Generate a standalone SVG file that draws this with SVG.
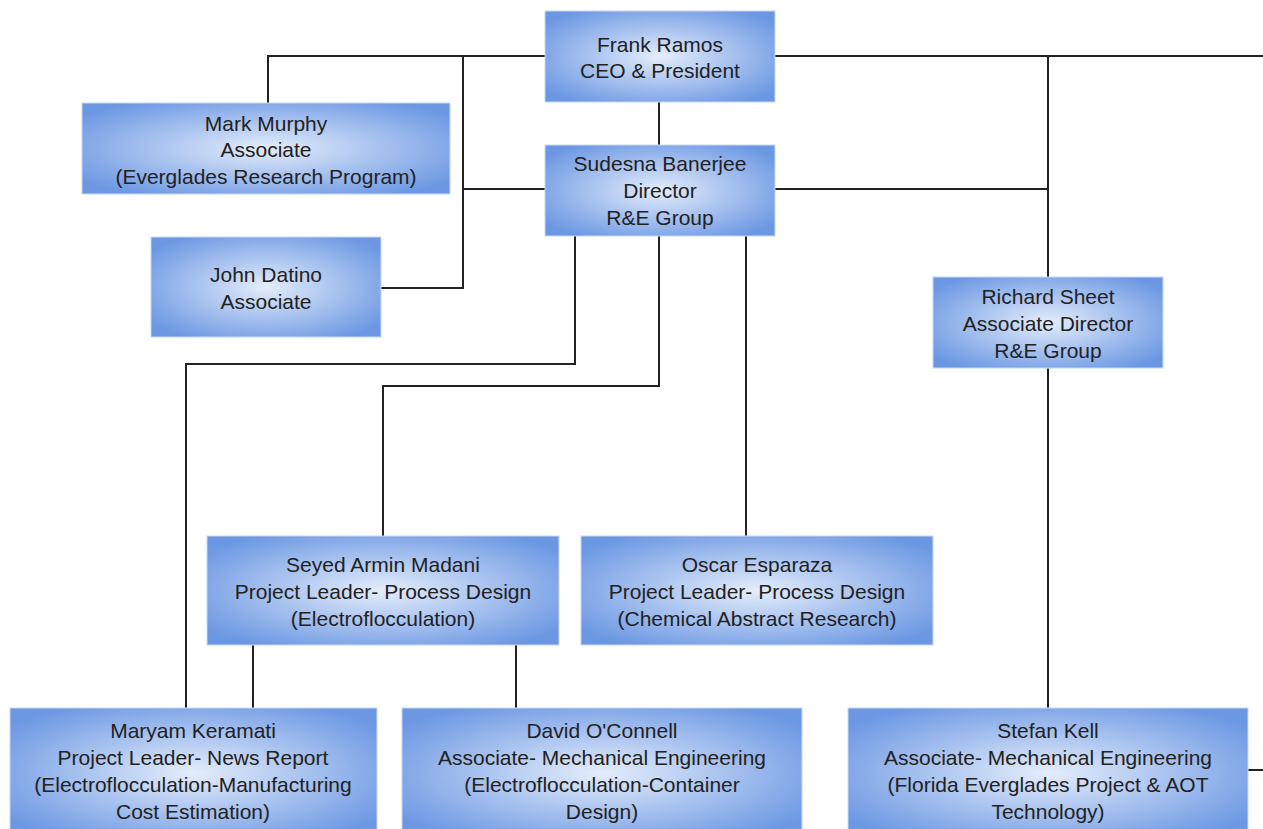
<svg xmlns="http://www.w3.org/2000/svg" width="1263" height="829" viewBox="0 0 1263 829">
<defs>
<radialGradient id="g" cx="0.5" cy="0.5" r="0.62">
<stop offset="0" stop-color="#e4edfb"/>
<stop offset="1" stop-color="#6b97e3"/>
</radialGradient>
<style>
.box{fill:url(#g);stroke:#c8d8f2;stroke-width:1}
.t{font-family:"Liberation Sans",Arial,sans-serif;font-size:21px;fill:#222;text-anchor:middle}
.c{fill:none;stroke:#222;stroke-width:2}
</style>
</defs>
<rect width="1263" height="829" fill="#fff"/>
<g id="connectors">
<path class="c" d="M268 103V56H545M775 56H1263"/>
<path class="c" d="M463 56V288H381"/>
<path class="c" d="M463 189H545"/>
<path class="c" d="M659 102V145"/>
<path class="c" d="M775 189H1048"/>
<path class="c" d="M1048 56V277"/>
<path class="c" d="M1048 368V708"/>
<path class="c" d="M575 236V364H186V708"/>
<path class="c" d="M659 236V386H383V536"/>
<path class="c" d="M746 236V536"/>
<path class="c" d="M253 645V708"/>
<path class="c" d="M516 645V708"/>
<path class="c" d="M1248 770H1263"/>
</g>
<g id="frank"><rect class="box" x="545" y="11" width="230" height="91"/>
<text class="t" x="660" y="52">Frank Ramos</text><text class="t" x="660" y="78">CEO &amp; President</text></g>
<g id="mark"><rect class="box" x="82" y="103" width="368" height="91"/>
<text class="t" x="266" y="131">Mark Murphy</text><text class="t" x="266" y="157">Associate</text><text class="t" x="266" y="184">(Everglades Research Program)</text></g>
<g id="sudesna"><rect class="box" x="545" y="145" width="230" height="91"/>
<text class="t" x="660" y="171">Sudesna Banerjee</text><text class="t" x="660" y="198">Director</text><text class="t" x="660" y="225">R&amp;E Group</text></g>
<g id="john"><rect class="box" x="151" y="237" width="230" height="100"/>
<text class="t" x="266" y="282">John Datino</text><text class="t" x="266" y="309">Associate</text></g>
<g id="richard"><rect class="box" x="933" y="277" width="230" height="91"/>
<text class="t" x="1048" y="304">Richard Sheet</text><text class="t" x="1048" y="331">Associate Director</text><text class="t" x="1048" y="358">R&amp;E Group</text></g>
<g id="seyed"><rect class="box" x="207" y="536" width="352" height="109"/>
<text class="t" x="383" y="572">Seyed Armin Madani</text><text class="t" x="383" y="599">Project Leader- Process Design</text><text class="t" x="383" y="626">(Electroflocculation)</text></g>
<g id="oscar"><rect class="box" x="581" y="536" width="352" height="109"/>
<text class="t" x="757" y="572">Oscar Esparaza</text><text class="t" x="757" y="599">Project Leader- Process Design</text><text class="t" x="757" y="626">(Chemical Abstract Research)</text></g>
<g id="maryam"><rect class="box" x="10" y="708" width="367" height="130"/>
<text class="t" x="193" y="738">Maryam Keramati</text><text class="t" x="193" y="765">Project Leader- News Report</text><text class="t" x="193" y="792">(Electroflocculation-Manufacturing</text><text class="t" x="193" y="819">Cost Estimation)</text></g>
<g id="david"><rect class="box" x="402" y="708" width="400" height="130"/>
<text class="t" x="602" y="738">David O'Connell</text><text class="t" x="602" y="765">Associate- Mechanical Engineering</text><text class="t" x="602" y="792">(Electroflocculation-Container</text><text class="t" x="602" y="819">Design)</text></g>
<g id="stefan"><rect class="box" x="848" y="708" width="400" height="130"/>
<text class="t" x="1048" y="738">Stefan Kell</text><text class="t" x="1048" y="765">Associate- Mechanical Engineering</text><text class="t" x="1048" y="792">(Florida Everglades Project &amp; AOT</text><text class="t" x="1048" y="819">Technology)</text></g>
</svg>
